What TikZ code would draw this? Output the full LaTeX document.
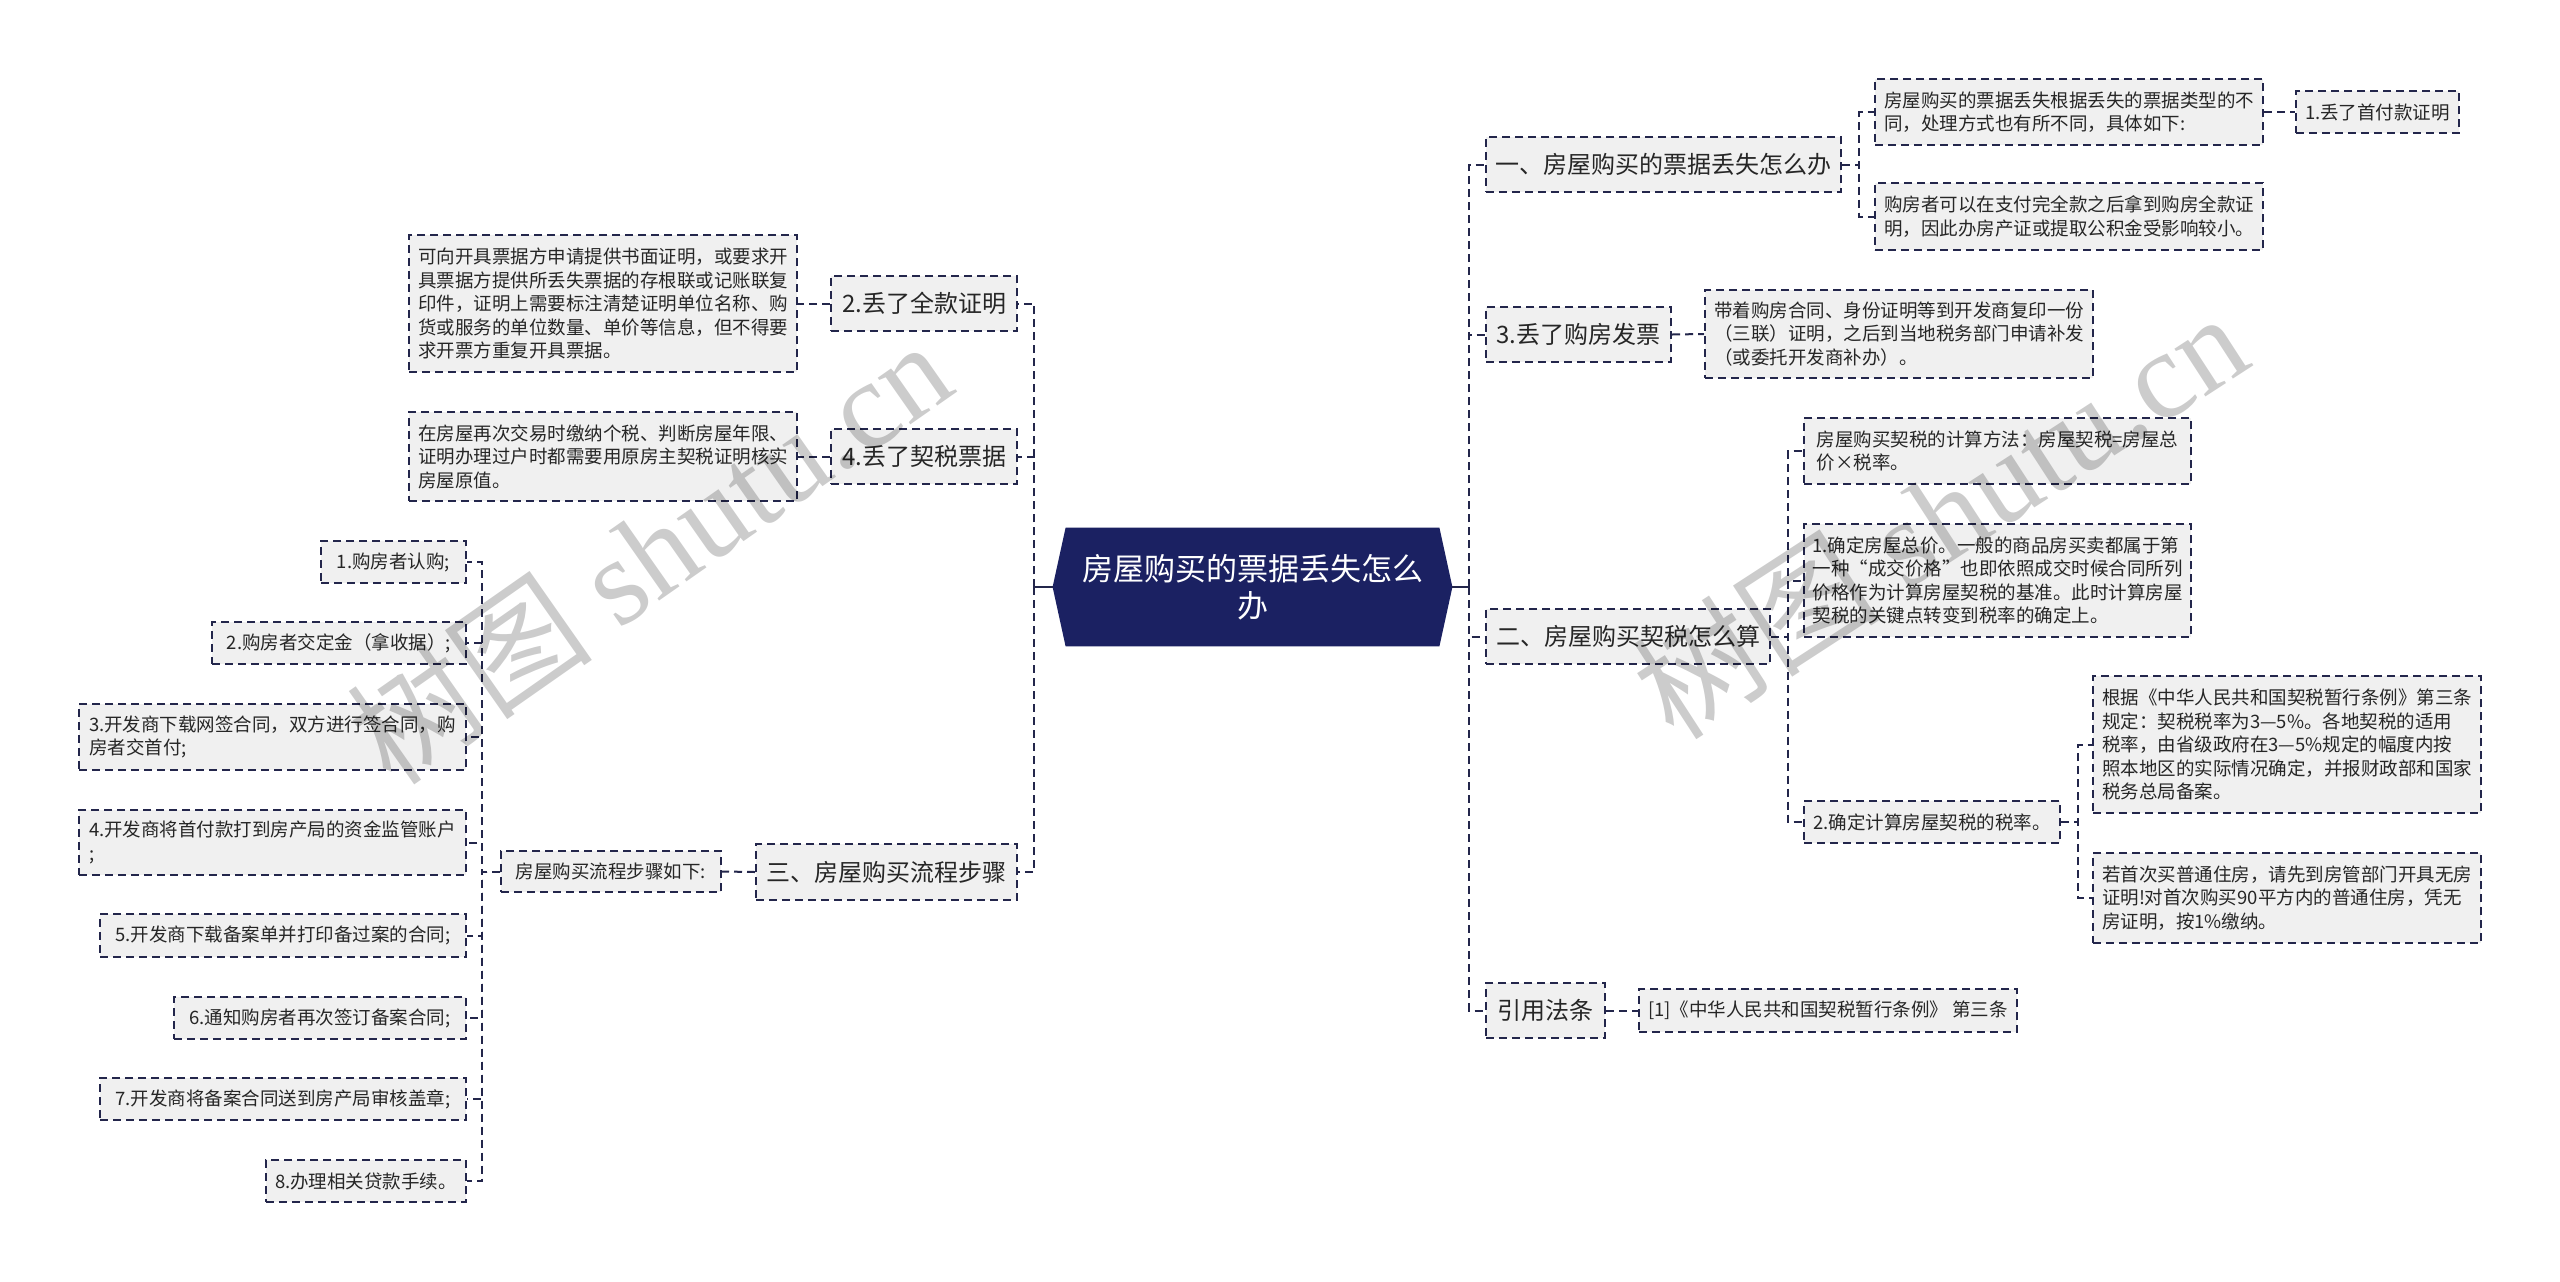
\documentclass[tikz,border=0pt]{standalone}
\usepackage{fontspec}
\setmainfont{Noto Sans CJK SC}
\newfontfamily\wmlatin{Liberation Serif}
\usetikzlibrary{backgrounds}
\definecolor{navy}{RGB}{27,33,98}
\definecolor{lineblue}{RGB}{35,38,75}
\definecolor{boxgray}{RGB}{240,240,240}
\newcommand{\boxnode}[7]{%
  \node[#6, minimum width={(#4-#2)*0.5pt}, minimum height={(#5-#3)*0.5pt}] (#1) at ({(#2+#4)/2},{(#3+#5)/2}) {#7};}
\tikzset{
  bxbase/.style={draw=lineblue, fill=boxgray, line width=1pt, dash pattern=on 4pt off 2.5pt, inner sep=0pt, align=left, text=black!85},
  bxs/.style={bxbase, font=\fontsize{9.25pt}{11.75pt}\selectfont},
  bxl/.style={bxbase, font=\fontsize{12pt}{14pt}\selectfont},
  conn/.style={draw=lineblue, line width=1pt, dash pattern=on 4pt off 2.5pt},
  solidconn/.style={draw=lineblue, line width=1.2pt},
  rootnode/.style={inner sep=0pt, align=center, text=white, font=\fontsize{15.5pt}{18.5pt}\selectfont, minimum width=199.5pt, minimum height=59pt},
  wm/.style={text=black, opacity=0.2, rotate=35, font=\fontsize{62pt}{62pt}\selectfont, inner sep=0pt}
}
\begin{document}
\begin{tikzpicture}[x=0.5pt, y=-0.5pt]
\useasboundingbox (0,0) rectangle (2560,1281);
% root
\node[rootnode] (root) at (1252.5,587) {房屋购买的票据丢失怎么\\办};
\begin{scope}[on background layer]
  \fill[white] (0,0) rectangle (2560,1281);
  \fill[navy] (root.west) -- ([xshift=6.5pt]root.north west) -- ([xshift=-6.5pt]root.north east) -- (root.east) -- ([xshift=-6.5pt]root.south east) -- ([xshift=6.5pt]root.south west) -- cycle;
\end{scope}
\coordinate (LT) at (1034,587);
\coordinate (RT) at (1469,587);

% ---------- left side ----------
\boxnode{E}{831}{276}{1017}{331}{bxl}{2.丢了全款证明}
\boxnode{E1}{409}{235}{797}{372}{bxs}{可向开具票据方申请提供书面证明，或要求开\\具票据方提供所丢失票据的存根联或记账联复\\印件，证明上需要标注清楚证明单位名称、购\\货或服务的单位数量、单价等信息，但不得要\\求开票方重复开具票据。}
\boxnode{F}{831}{429}{1017}{484}{bxl}{4.丢了契税票据}
\boxnode{F1}{409}{412}{797}{501}{bxs}{在房屋再次交易时缴纳个税、判断房屋年限、\\证明办理过户时都需要用原房主契税证明核实\\房屋原值。}
\boxnode{G}{756}{844}{1017}{900}{bxl}{三、房屋购买流程步骤}
\boxnode{G1}{501}{851}{721}{892}{bxs}{房屋购买流程步骤如下:}
\boxnode{S1}{321}{541}{466}{583}{bxs}{1.购房者认购;}
\boxnode{S2}{212}{622}{466}{664}{bxs}{2.购房者交定金（拿收据）;}
\boxnode{S3}{79}{704}{466}{770}{bxs}{3.开发商下载网签合同，双方进行签合同，购\\房者交首付;}
\boxnode{S4}{79}{810}{466}{875}{bxs}{4.开发商将首付款打到房产局的资金监管账户\\;}
\boxnode{S5}{100}{914}{466}{957}{bxs}{5.开发商下载备案单并打印备过案的合同;}
\boxnode{S6}{174}{997}{466}{1039}{bxs}{6.通知购房者再次签订备案合同;}
\boxnode{S7}{100}{1078}{466}{1120}{bxs}{7.开发商将备案合同送到房产局审核盖章;}
\boxnode{S8}{266}{1160}{466}{1202}{bxs}{8.办理相关贷款手续。}

% ---------- right side ----------
\boxnode{A}{1486}{137}{1841}{192}{bxl}{一、房屋购买的票据丢失怎么办}
\boxnode{A1}{1875}{79}{2263}{145}{bxs}{房屋购买的票据丢失根据丢失的票据类型的不\\同，处理方式也有所不同，具体如下:}
\boxnode{A1a}{2296}{91}{2459}{133}{bxs}{1.丢了首付款证明}
\boxnode{A2}{1875}{183}{2263}{250}{bxs}{购房者可以在支付完全款之后拿到购房全款证\\明，因此办房产证或提取公积金受影响较小。}
\boxnode{B}{1486}{307}{1671}{362}{bxl}{3.丢了购房发票}
\boxnode{B1}{1705}{290}{2093}{378}{bxs}{带着购房合同、身份证明等到开发商复印一份\\（三联）证明，之后到当地税务部门申请补发\\（或委托开发商补办）。}
\boxnode{C}{1486}{609}{1770}{664}{bxl}{二、房屋购买契税怎么算}
\boxnode{C1}{1804}{418}{2191}{484}{bxs}{房屋购买契税的计算方法：房屋契税=房屋总\\价×税率。}
\boxnode{C2}{1804}{524}{2191}{637}{bxs}{1.确定房屋总价。一般的商品房买卖都属于第\\一种“成交价格”也即依照成交时候合同所列\\价格作为计算房屋契税的基准。此时计算房屋\\契税的关键点转变到税率的确定上。}
\boxnode{C3}{1804}{801}{2060}{843}{bxs}{2.确定计算房屋契税的税率。}
\boxnode{C3a}{2093}{676}{2481}{813}{bxs}{根据《中华人民共和国契税暂行条例》第三条\\规定：契税税率为3—5\%。各地契税的适用\\税率，由省级政府在3—5\%规定的幅度内按\\照本地区的实际情况确定，并报财政部和国家\\税务总局备案。}
\boxnode{C3b}{2093}{853}{2481}{943}{bxs}{若首次买普通住房，请先到房管部门开具无房\\证明!对首次购买90平方内的普通住房，凭无\\房证明，按1\%缴纳。}
\boxnode{D}{1486}{983}{1605}{1038}{bxl}{引用法条}
\boxnode{D1}{1639}{989}{2017}{1032}{bxs}{[1]《中华人民共和国契税暂行条例》 第三条}

% ---------- connectors ----------
\draw[solidconn] (root.west) -- (LT);
\draw[solidconn] (root.east) -- (RT);
\foreach \n in {E,F,G} \draw[conn] (LT) |- (\n.east);
\draw[conn] (E.west) -- (E1.east);
\draw[conn] (F.west) -- (F1.east);
\draw[conn] (G.west) -- (G1.east);
\foreach \n in {S1,S2,S3,S4,S5,S6,S7,S8} \draw[conn] (G1.west) -- ++(-18,0) |- (\n.east);

\foreach \n in {A,B,C,D} \draw[conn] (RT) |- (\n.west);
\foreach \n in {A1,A2} \draw[conn] (A.east) -- ++(17,0) |- (\n.west);
\draw[conn] (A1.east) -- (A1a.west);
\draw[conn] (B.east) -- (B1.west);
\foreach \n in {C1,C2,C3} \draw[conn] (C.east) -- ++(17,0) |- (\n.west);
\foreach \n in {C3a,C3b} \draw[conn] (C3.east) -- ++(17,0) |- (\n.west);
\draw[conn] (D.east) -- (D1.west);

% ---------- watermarks ----------
\node[wm] (wm1) at (649,551) {树图 {\wmlatin shutu.cn}};
\node[wm, rotate=-2] (wm2) at (1939,514) {树图 {\wmlatin shutu.cn}};
\end{tikzpicture}
\end{document}
